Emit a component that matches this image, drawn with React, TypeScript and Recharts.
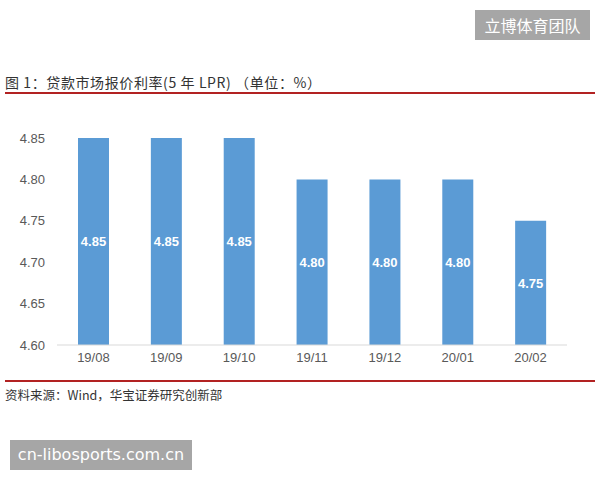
import { BarChart, Bar, XAxis, YAxis, LabelList } from "recharts";

const months = ["19/08", "19/09", "19/10", "19/11", "19/12", "20/01", "20/02"];
const lpr5y = [4.85, 4.85, 4.85, 4.8, 4.8, 4.8, 4.75];
const yTicks = [4.6, 4.65, 4.7, 4.75, 4.8, 4.85];

const data = months.map((m, i) => ({ month: m, rate: lpr5y[i] }));

const FONT = "'Liberation Sans', Arial, 'Noto Sans CJK SC', sans-serif";
const CJK = "'Noto Sans CJK SC', sans-serif";

export default function App() {
  return (
    <div
      style={{
        position: "absolute",
        left: 0,
        top: 0,
        width: 600,
        height: 480,
        background: "#fff",
        fontFamily: FONT,
        overflow: "hidden",
      }}
    >
      {/* top-right tag */}
      <div
        style={{
          position: "absolute",
          left: 475,
          top: 10,
          width: 115,
          height: 30,
          background: "#a6a6a6",
          color: "#fff",
          fontFamily: CJK,
          fontSize: 16,
          lineHeight: "30px",
          textAlign: "center",
        }}
      >
        立博体育团队
      </div>

      <div
        style={{
          position: "absolute",
          left: 5,
          top: 72,
          fontSize: 14,
          color: "#333",
          fontFamily: CJK,
          whiteSpace: "nowrap",
          letterSpacing: 0.6,
        }}
      >
        图 1：贷款市场报价利率(5 年 LPR) （单位：%）
      </div>
      <div style={{ position: "absolute", left: 5, top: 92, width: 590, height: 2, background: "#b22222" }} />

      <div style={{ position: "absolute", left: 0, top: 0 }}>
        <BarChart
          width={600}
          height={480}
          data={data}
          margin={{ top: 138, right: 33, bottom: 105, left: 7 }}
          barCategoryGap={21}
        >
          <XAxis
            dataKey="month"
            tick={{ fill: "#595959", fontSize: 13, fontFamily: FONT }}
            tickLine={false}
            axisLine={{ stroke: "#d9d9d9" }}
            height={30}
            tickMargin={2}
          />
          <YAxis
            domain={[4.6, 4.85]}
            ticks={yTicks}
            tickFormatter={(v: number) => v.toFixed(2)}
            tick={{ fill: "#595959", fontSize: 13, fontFamily: FONT }}
            tickLine={false}
            axisLine={false}
            width={50}
            tickMargin={6}
            interval={0}
          />
          <Bar dataKey="rate" fill="#5b9bd5" isAnimationActive={false}>
            <LabelList
              dataKey="rate"
              position="center"
              formatter={(v: number) => v.toFixed(2)}
              style={{ fill: "#fff", fontSize: 13, fontWeight: "bold", fontFamily: FONT }}
            />
          </Bar>
        </BarChart>
      </div>

      <div style={{ position: "absolute", left: 5, top: 380, width: 590, height: 2, background: "#b22222" }} />
      <div
        style={{
          position: "absolute",
          left: 5,
          top: 385,
          fontSize: 12.5,
          color: "#333",
          fontFamily: CJK,
          whiteSpace: "nowrap",
        }}
      >
        资料来源：Wind，华宝证券研究创新部
      </div>

      {/* bottom watermark */}
      <div
        style={{
          position: "absolute",
          left: 10,
          top: 440,
          width: 182,
          height: 30,
          background: "#a6a6a6",
          color: "#fff",
          fontFamily: "'DejaVu Sans', sans-serif",
          fontSize: 16,
          lineHeight: "30px",
          textAlign: "center",
        }}
      >
        cn-libosports.com.cn
      </div>
    </div>
  );
}
